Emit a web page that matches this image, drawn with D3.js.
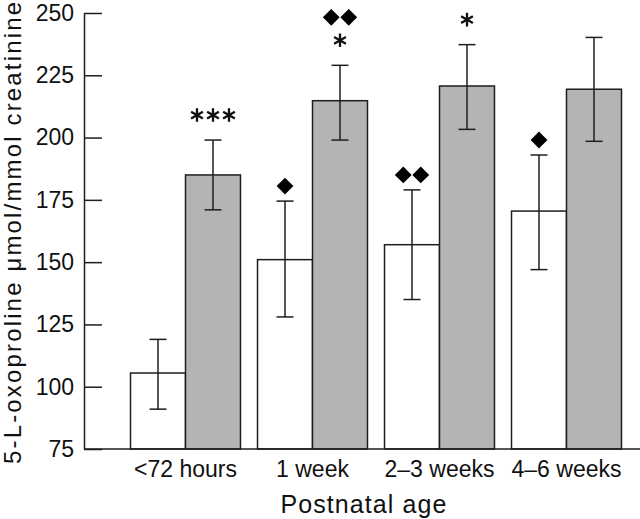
<!DOCTYPE html>
<html>
<head>
<meta charset="utf-8">
<script src="https://cdn.jsdelivr.net/npm/d3@7"></script>
<style>
  html, body { margin: 0; padding: 0; background: #fff; }
  svg { display: block; font-family: "Liberation Sans", Arial, Helvetica, sans-serif; }
</style>
</head>
<body>
<svg id="chart" width="640" height="519"></svg>
<script>
// ---- data ----
const categories = ["<72 hours", "1 week", "2\u20133 weeks", "4\u20136 weeks"];
const seriesKeys = ["open", "shaded"];
const openMean   = [105.5, 151, 157, 170.5];
const openLow    = [91, 128, 135, 147];
const openHigh   = [119, 174.5, 179, 193];
const shadedMean = [185, 214.8, 220.7, 219.4];
const shadedLow  = [171, 199, 203.3, 198.5];
const shadedHigh = [199, 229, 237.3, 240.2];
// significance markers (counts)
const openStars     = [0, 0, 0, 0];
const openDiamonds  = [0, 1, 2, 1];
const shadedStars   = [3, 1, 1, 0];
const shadedDiamonds= [0, 2, 0, 0];
const yTicks = [75, 100, 125, 150, 175, 200, 225, 250];
const yTitle = "5-L-oxoproline \u03bcmol/mmol creatinine";
const xTitle = "Postnatal age";

const rows = [];
categories.forEach((c, i) => {
  rows.push({cat: c, key: "open", mean: openMean[i], lo: openLow[i], hi: openHigh[i], stars: openStars[i], diamonds: openDiamonds[i]});
  rows.push({cat: c, key: "shaded", mean: shadedMean[i], lo: shadedLow[i], hi: shadedHigh[i], stars: shadedStars[i], diamonds: shadedDiamonds[i]});
});

const svg = d3.select("#chart");
const ink = "#1e1e1e";

const y = d3.scaleLinear().domain([75, 250]).range([449, 13]);
const x0 = d3.scaleBand().domain(categories).range([122, 630]).paddingInner(0.134).paddingOuter(0.067);
const x1 = d3.scaleBand().domain(seriesKeys).range([0, x0.bandwidth()]).padding(0);
const fill = d3.scaleOrdinal().domain(seriesKeys).range(["#ffffff", "#b4b5b3"]);

// bars
const g = svg.append("g");
g.selectAll("rect.bar").data(rows).join("rect")
  .attr("class", "bar")
  .attr("x", d => x0(d.cat) + x1(d.key))
  .attr("y", d => y(d.mean))
  .attr("width", x1.bandwidth())
  .attr("height", d => y(75) - y(d.mean))
  .attr("fill", d => fill(d.key))
  .attr("stroke", ink)
  .attr("stroke-width", 1.5);

// error bars
const cap = 8.5;
const cx = d => x0(d.cat) + x1(d.key) + x1.bandwidth() / 2;
const eb = g.selectAll("g.err").data(rows).join("g").attr("class", "err")
  .attr("stroke", ink).attr("stroke-width", 1.5);
eb.append("line").attr("x1", cx).attr("x2", cx).attr("y1", d => y(d.lo)).attr("y2", d => y(d.hi));
eb.append("line").attr("x1", d => cx(d) - cap).attr("x2", d => cx(d) + cap).attr("y1", d => y(d.hi)).attr("y2", d => y(d.hi));
eb.append("line").attr("x1", d => cx(d) - cap).attr("x2", d => cx(d) + cap).attr("y1", d => y(d.lo)).attr("y2", d => y(d.lo));

// markers
const starPath = (r) => {
  let p = "";
  for (let k = 0; k < 3; k++) {
    const a = Math.PI / 2 + k * Math.PI / 3;
    p += `M${(-r * Math.cos(a)).toFixed(2)},${(-r * Math.sin(a)).toFixed(2)}L${(r * Math.cos(a)).toFixed(2)},${(r * Math.sin(a)).toFixed(2)}`;
  }
  return p;
};
const diamondPath = (r) => `M0,${-r}L${r},0L0,${r}L${-r},0Z`;
rows.forEach(d => {
  const xc = cx(d);
  const top = y(d.hi);
  if (d.stars > 0) {
    const ys = top - 25;
    const sp = 16;
    for (let k = 0; k < d.stars; k++) {
      const xx = xc + (k - (d.stars - 1) / 2) * sp;
      g.append("path").attr("d", starPath(6.8)).attr("transform", `translate(${xx},${ys})`)
        .attr("stroke", "#111").attr("stroke-width", 2.3).attr("fill", "none");
    }
  }
  if (d.diamonds > 0) {
    const yd = d.stars > 0 ? top - 48 : top - 15;
    const sp = 17.5;
    for (let k = 0; k < d.diamonds; k++) {
      const xx = xc + (k - (d.diamonds - 1) / 2) * sp;
      g.append("path").attr("d", diamondPath(8.4)).attr("transform", `translate(${xx},${yd})`)
        .attr("fill", "#000");
    }
  }
});

// y axis
const yAxis = d3.axisLeft(y).tickValues(yTicks).tickSizeInner(-18).tickSizeOuter(0).tickPadding(10);
const ya = svg.append("g").attr("transform", "translate(84,0)").call(yAxis);
ya.select(".domain").attr("stroke", ink).attr("stroke-width", 1.5);
ya.selectAll(".tick line").attr("stroke", ink).attr("stroke-width", 1.5);
ya.selectAll(".tick text").attr("font-size", 23).attr("fill", "#111").attr("font-family", "Liberation Sans, Arial, sans-serif");

// x axis
const xAxis = d3.axisBottom(x0).tickSize(0).tickPadding(11.5);
const xa = svg.append("g").attr("transform", "translate(0,449)").call(xAxis);
xa.select(".domain").remove();
xa.selectAll(".tick text").attr("font-size", 23).attr("fill", "#111").attr("font-family", "Liberation Sans, Arial, sans-serif");
svg.append("line").attr("x1", 84).attr("x2", 640).attr("y1", 449).attr("y2", 449)
  .attr("stroke", ink).attr("stroke-width", 1.5);

// titles
svg.append("text").attr("transform", "rotate(-90)")
  .attr("x", -233).attr("y", 21)
  .attr("text-anchor", "middle").attr("font-size", 24).attr("fill", "#111")
  .attr("textLength", 462).attr("lengthAdjust", "spacing")
  .text(yTitle);
svg.append("text").attr("x", 364).attr("y", 513)
  .attr("text-anchor", "middle").attr("font-size", 25).attr("fill", "#111")
  .style("letter-spacing", "1.1px")
  .text(xTitle);
</script>
</body>
</html>
